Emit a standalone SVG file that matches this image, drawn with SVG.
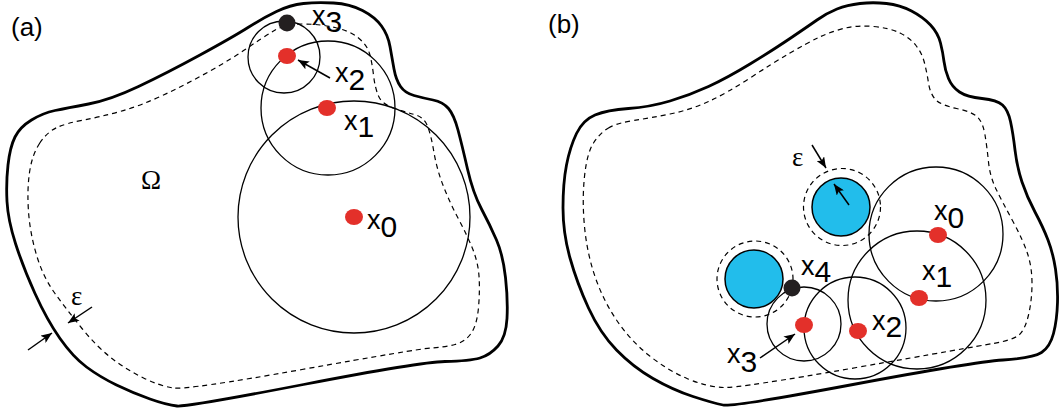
<svg xmlns="http://www.w3.org/2000/svg" width="1061" height="410" viewBox="0 0 1061 410">
<style>
.bd{fill:none;stroke:#000;stroke-width:2.8;stroke-linejoin:round}
.ds{fill:none;stroke:#000;stroke-width:1.2;stroke-dasharray:5 4}
.cr{fill:none;stroke:#000;stroke-width:1.3}
.rd{fill:#e3302a}
.bk{fill:#231f20}
.ob{fill:#22bdeb;stroke:#000;stroke-width:1.5}
.ar{fill:none;stroke:#000;stroke-width:1.5;marker-end:url(#ah)}
.lb{font-family:"Liberation Sans",Arial,sans-serif;font-size:27px;fill:#000}
.pl{font-family:"Liberation Sans",Arial,sans-serif;font-size:26px;fill:#000}
.sb{font-size:30px}
.gr{font-family:"Liberation Serif","Times New Roman",serif;font-size:27px;fill:#000}
</style>
<defs>
<marker id="ah" markerUnits="userSpaceOnUse" markerWidth="12" markerHeight="9" refX="11" refY="4.5" orient="auto">
<path d="M0,0 L11,4.5 L0,9 L2.5,4.5 z" fill="#000"/>
</marker>
</defs>
<rect width="1061" height="410" fill="#fff"/>

<g id="panel-a">
<g id="domain-a">
<path class="bd" d="M 31.5,120 Q 43,113 55,110.5 Q 67,108 88.5,104 Q 110,100 138.5,86.5 Q 167,73 200,55 Q 233,37 248,27.5 Q 263,18 276.5,11.5 Q 290,5 303.5,3.5 Q 317,2 333.5,3 Q 350,4 362.5,10.5 Q 375,17 381.5,26 Q 388,35 390,46.5 Q 392,58 394,69 Q 396,80 400.5,86.5 Q 405,93 414,95.5 Q 423,98 433,100 Q 443,102 448.5,108.5 Q 454,115 458,130 Q 462,145 467.5,169 Q 473,193 481.5,209 Q 490,225 496.5,240 Q 503,255 505.5,277.5 Q 508,300 507,318.5 Q 506,337 498,346 Q 490,355 480,358 Q 470,361 445,361.5 Q 420,362 303.5,384.5 Q 187,407 177,406 Q 167,405 150,399 Q 133,393 116.5,385 Q 100,377 86.5,367 Q 73,357 60,338.5 Q 47,320 35,293.5 Q 23,267 15.5,243.5 Q 8,220 7,201.5 Q 6,183 8,165 Q 10,147 15,137 Q 20,127 31.5,120 Z"/>
<path class="ds" d="M 39.5,143.5 Q 47,132 57,127.5 Q 67,123 83.5,120 Q 100,117 120,111.5 Q 140,106 163.5,95 Q 187,84 210,71 Q 233,58 247.5,48 Q 262,38 273.5,31 Q 285,24 302.5,24 Q 320,24 335,27.5 Q 350,31 358.5,38 Q 367,45 369.5,53.5 Q 372,62 373.5,75 Q 375,88 378.5,96 Q 382,104 393.5,108 Q 405,112 414.5,114.5 Q 424,117 427.5,126 Q 431,135 434,152.5 Q 437,170 443.5,186.5 Q 450,203 458.5,219 Q 467,235 472.5,248.5 Q 478,262 479,276 Q 480,290 478.5,307.5 Q 477,325 471,333.5 Q 465,342 455,344.5 Q 445,347 431,348 Q 417,349 302,369.5 Q 187,390 173.5,388 Q 160,386 143.5,378 Q 127,370 112,358.5 Q 97,347 82,328.5 Q 67,310 55,293.5 Q 43,277 36.5,255 Q 30,233 28.5,211.5 Q 27,190 29.5,172.5 Q 32,155 39.5,143.5 Z"/>
</g>
<g id="circles-a">
<circle class="cr" cx="354" cy="217" r="116"/>
<circle class="cr" cx="328" cy="108" r="67"/>
<circle class="cr" cx="284" cy="57" r="36"/>
</g>
<g id="connectors-a">
<line class="ar" x1="330" y1="78" x2="298" y2="60"/>
<line class="ar" x1="92" y1="307" x2="68" y2="323"/>
<line class="ar" x1="28" y1="350" x2="52" y2="333"/>
</g>
<g id="a-x0"><ellipse class="rd" cx="354" cy="217" rx="9" ry="8"/><text class="lb" x="367" y="229">x<tspan class="sb" dy="8">0</tspan></text></g>
<g id="a-x1"><ellipse class="rd" cx="327" cy="108" rx="9" ry="8"/><text class="lb" x="344" y="130">x<tspan class="sb" dy="7">1</tspan></text></g>
<g id="a-x2"><ellipse class="rd" cx="287" cy="56" rx="9" ry="8"/><text class="lb" x="335" y="82">x<tspan class="sb" dy="8">2</tspan></text></g>
<g id="a-x3"><circle class="bk" cx="287" cy="23" r="8.5"/><text class="lb" x="312" y="25">x<tspan class="sb" dy="7">3</tspan></text></g>
<text class="gr" x="141" y="189">Ω</text>
<text class="gr" x="71" y="305">ε</text>
<text class="pl" x="11" y="36">(a)</text>
</g>

<g id="panel-b">
<g id="domain-b">
<path class="bd" d="M 576.5,133.5 Q 583,120 595,115 Q 607,110 628.5,108.5 Q 650,107 670,101 Q 690,95 708.5,86.5 Q 727,78 750,64 Q 773,50 790,38.5 Q 807,27 817,20 Q 827,13 837,9 Q 847,5 860,3.5 Q 873,2 886.5,3.5 Q 900,5 911.5,11 Q 923,17 930.5,25 Q 938,33 940.5,43 Q 943,53 944,61.5 Q 945,70 948.5,78.5 Q 952,87 959.5,92 Q 967,97 982,98.5 Q 997,100 1002.5,105 Q 1008,110 1010.5,121.5 Q 1013,133 1015,150 Q 1017,167 1022,182 Q 1027,197 1035,212 Q 1043,227 1048,240 Q 1053,253 1055.5,269 Q 1058,285 1057.5,302.5 Q 1057,320 1053.5,333.5 Q 1050,347 1041.5,352.5 Q 1033,358 1003,360 Q 973,362 853,384.5 Q 733,407 723,405 Q 713,403 693,396.5 Q 673,390 653,378.5 Q 633,367 616.5,350 Q 600,333 588.5,308 Q 577,283 570,258 Q 563,233 563,208 Q 563,183 566.5,165 Q 570,147 576.5,133.5 Z"/>
<path class="ds" d="M 608.5,128 Q 617,123 633.5,120.5 Q 650,118 670,114 Q 690,110 708.5,101.5 Q 727,93 750,78 Q 773,63 790,53 Q 807,43 818.5,37.5 Q 830,32 843.5,28.5 Q 857,25 873.5,26.5 Q 890,28 900,33 Q 910,38 916,45.5 Q 922,53 924.5,63 Q 927,73 928.5,83 Q 930,93 935,99 Q 940,105 956.5,108.5 Q 973,112 978,117.5 Q 983,123 985,135 Q 987,147 988.5,162 Q 990,177 996.5,190 Q 1003,203 1013,221.5 Q 1023,240 1027.5,253.5 Q 1032,267 1032,283.5 Q 1032,300 1028.5,315 Q 1025,330 1019,335 Q 1013,340 993,343.5 Q 973,347 856.5,367.5 Q 740,388 723.5,387.5 Q 707,387 687,378.5 Q 667,370 648.5,355 Q 630,340 616.5,320 Q 603,300 595,276.5 Q 587,253 584.5,226.5 Q 582,200 584.5,176.5 Q 587,153 593.5,143 Q 600,133 608.5,128 Z"/>
</g>
<g id="obstacle-1">
<circle class="ds" cx="842" cy="207" r="38.5"/>
<circle class="ob" cx="841" cy="207" r="29"/>
</g>
<g id="obstacle-2">
<circle class="ds" cx="755" cy="279" r="38"/>
<circle class="ob" cx="754" cy="279" r="29"/>
</g>
<g id="circles-b">
<circle class="cr" cx="936" cy="234" r="67"/>
<circle class="cr" cx="917" cy="300" r="69"/>
<circle class="cr" cx="855" cy="328" r="51"/>
<circle class="cr" cx="804" cy="324" r="37"/>
</g>
<g id="connectors-b">
<line class="ar" x1="760" y1="358" x2="795" y2="334"/>
<line class="ar" x1="812" y1="145" x2="826" y2="168"/>
<line class="ar" x1="849" y1="205" x2="834" y2="184"/>
</g>
<g id="b-x0"><ellipse class="rd" cx="938" cy="235" rx="9" ry="8"/><text class="lb" x="934" y="220">x<tspan class="sb" dy="8">0</tspan></text></g>
<g id="b-x1"><ellipse class="rd" cx="919" cy="298" rx="9" ry="8"/><text class="lb" x="922" y="280">x<tspan class="sb" dy="7">1</tspan></text></g>
<g id="b-x2"><ellipse class="rd" cx="858" cy="331" rx="9" ry="8"/><text class="lb" x="872" y="330">x<tspan class="sb" dy="7">2</tspan></text></g>
<g id="b-x3"><ellipse class="rd" cx="804" cy="325" rx="9" ry="8"/><text class="lb" x="727" y="363">x<tspan class="sb" dy="9">3</tspan></text></g>
<g id="b-x4"><circle class="bk" cx="792" cy="288" r="8.5"/><text class="lb" x="801" y="275">x<tspan class="sb" dy="7">4</tspan></text></g>
<text class="gr" x="792" y="166">ε</text>
<text class="pl" x="548" y="33">(b)</text>
</g>
</svg>
